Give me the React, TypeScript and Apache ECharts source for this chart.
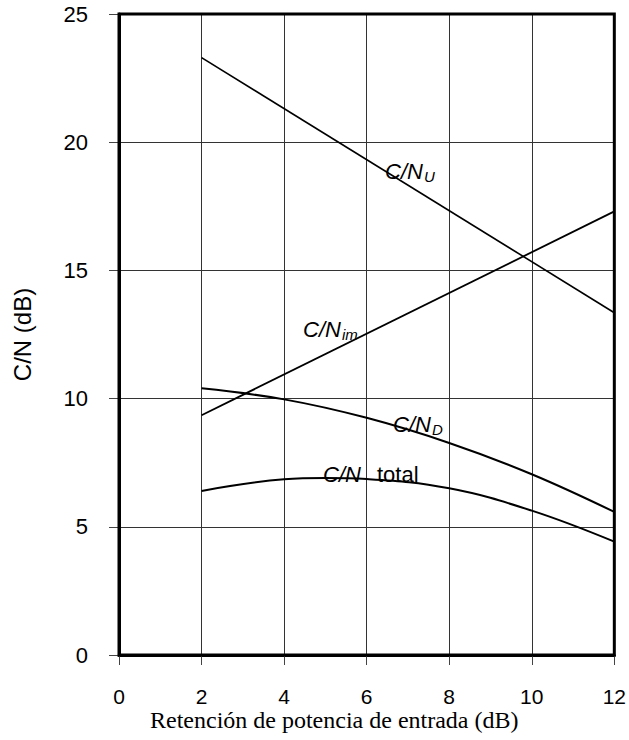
import React, { useEffect, useRef } from "react";
import * as echarts from "echarts";

const xTicks = [0, 2, 4, 6, 8, 10, 12];
const yTicks = [0, 5, 10, 15, 20, 25];

const cnUplink: [number, number][] = [
  [2, 23.3],
  [12, 13.35],
];
const cnIm: [number, number][] = [
  [2, 9.35],
  [12, 17.3],
];
const cnDownlink: [number, number][] = [
  [2, 10.4],
  [4, 9.97],
  [6, 9.25],
  [8, 8.27],
  [10, 7.05],
  [12, 5.58],
];
const cnTotal: [number, number][] = [
  [2, 6.4],
  [4, 6.85],
  [5, 6.9],
  [6, 6.86],
  [8, 6.5],
  [10, 5.63],
  [12, 4.42],
];

const xAxisTitle = "Retención de potencia de entrada (dB)";
const yAxisTitle = "C/N (dB)";

const SANS = "'Liberation Sans', Arial, sans-serif";
const SERIF = "'Liberation Serif', 'Times New Roman', serif";

function label(main: string, sub: string, x: number, y: number, subDx: number, subDy: number, subItalic = true) {
  return [
    {
      type: "text",
      left: x,
      top: y,
      style: {
        text: main,
        font: `italic 22px ${SANS}`,
        fill: "#000",
        textVerticalAlign: "middle",
      },
    },
    {
      type: "text",
      left: x + subDx,
      top: y + subDy,
      style: {
        text: sub,
        font: `${subItalic ? "italic " : ""}${subItalic ? 15 : 22}px ${SANS}`,
        fill: "#000",
        textVerticalAlign: "middle",
      },
    },
  ];
}

export default function App() {
  const ref = useRef<HTMLDivElement>(null);
  useEffect(() => {
    document.body.style.margin = "0";
    document.body.style.overflow = "hidden";
    if (!ref.current) return;
    const chart = echarts.init(ref.current, null, { renderer: "svg" });
    const lineSeries = (data: [number, number][], width: number, smooth: boolean | number) => ({
      type: "line",
      data,
      symbol: "none",
      smooth,
      lineStyle: { color: "#000", width },
      z: 3,
    });
    chart.setOption({
      animation: false,
      backgroundColor: "#fff",
      grid: {
        left: 119,
        right: 14,
        top: 14,
        bottom: 85,
        show: true,
        borderColor: "#000",
        borderWidth: 3,
        z: 4,
      },
      xAxis: {
        type: "value",
        min: xTicks[0],
        max: xTicks[xTicks.length - 1],
        interval: 2,
        axisLine: { show: true, lineStyle: { color: "#000", width: 3 } },
        axisTick: { show: true, length: 10, lineStyle: { color: "#444", width: 1 } },
        axisLabel: { margin: 31, fontSize: 21, fontFamily: SANS, color: "#000" },
        splitLine: { show: true, lineStyle: { color: "#333", width: 1 } },
      },
      yAxis: {
        type: "value",
        min: yTicks[0],
        max: yTicks[yTicks.length - 1],
        interval: 5,
        name: yAxisTitle,
        nameLocation: "middle",
        nameRotate: 90,
        nameGap: 85,
        nameTextStyle: { fontSize: 24, fontFamily: SANS, color: "#000" },
        axisLine: { show: true, lineStyle: { color: "#000", width: 3 } },
        axisTick: { show: true, length: 10, lineStyle: { color: "#444", width: 1 } },
        axisLabel: { margin: 31, fontSize: 22, fontFamily: SANS, color: "#000" },
        splitLine: { show: true, lineStyle: { color: "#333", width: 1 } },
      },
      series: [
        lineSeries(cnUplink, 1.6, false),
        lineSeries(cnIm, 1.8, false),
        lineSeries(cnDownlink, 2, 0.4),
        lineSeries(cnTotal, 2, 0.4),
      ],
      graphic: [
        ...label("C/N", "U", 385, 160, 39, 9),
        ...label("C/N", "im", 303, 318, 39, 9),
        ...label("C/N", "D", 393, 413, 39, 9),
        ...label("C/N", "total", 323, 463, 54, 0, false),
        {
          type: "text",
          left: 150,
          top: 708,
          style: {
            text: xAxisTitle,
            font: `24px ${SERIF}`,
            fill: "#000",
          },
        },
      ],
    });
    return () => chart.dispose();
  }, []);
  return <div ref={ref} style={{ width: 629, height: 740 }} />;
}
